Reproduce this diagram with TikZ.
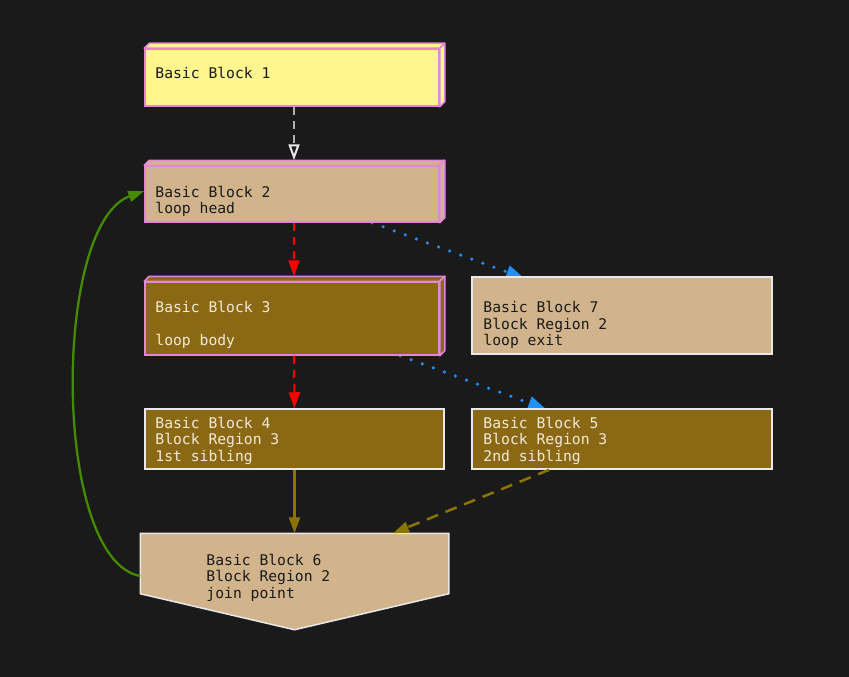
\documentclass[tikz,border=0pt]{standalone}
\usepackage{fontspec}
\newfontfamily\dmono{DejaVu Sans Mono}
\usetikzlibrary{arrows.meta,calc}
\definecolor{bg}{HTML}{1A1A1A}
\definecolor{khakic}{HTML}{FFF68F}
\definecolor{tanc}{HTML}{D2B48C}
\definecolor{goldc}{HTML}{8B6914}
\definecolor{orch}{HTML}{E386D6}
\definecolor{lightb}{HTML}{E8E8E8}
\definecolor{lighttext}{HTML}{F2EAD8}
\definecolor{darktext}{HTML}{1A1A1A}
\definecolor{edgegray}{HTML}{B0B0B0}
\definecolor{blueE}{HTML}{1E90FF}
\definecolor{oliveE}{HTML}{8B7500}
\definecolor{greenE}{HTML}{458B00}
\newcommand{\monotext}{\dmono\fontsize{14.7}{16.5}\selectfont}
\newcommand{\textlines}[1]{\begin{tabular}[t]{@{}l@{}}#1\end{tabular}}
\pgfdeclarelayer{backdrop}
\pgfdeclarelayer{under}
\pgfsetlayers{backdrop,under,main}
\begin{document}
\begin{tikzpicture}[x=1pt,y=-1pt,
  boxnode/.style={rectangle, inner sep=0pt, line width=1.5pt},
  pinkbox/.style={boxnode, draw=orch},
  whitebox/.style={boxnode, draw=lightb},
  face/.style={draw=orch, line width=1.5pt, line join=round},
  txtbase/.style={anchor=base west, inner sep=0pt, font=\monotext},
  txtdark/.style={txtbase, text=darktext},
  txtlight/.style={txtbase, text=lighttext},
  tipfill/.style={-{Triangle[length=16pt,width=11pt]}},
  tipbig/.style={-{Triangle[length=18pt,width=13pt]}},
  edgeline/.style={line width=2pt},
  dotline/.style={blueE, line width=3.5pt, line cap=round, dash pattern=on 0pt off 11.8pt, tipbig}
]
\begin{pgfonlayer}{backdrop}
\fill[bg] (0,0) rectangle (849,677);
\end{pgfonlayer}
\useasboundingbox (0,0) rectangle (849,677);

% Block 1
\node[pinkbox, fill=khakic, minimum width=294pt, minimum height=57pt] (b1) at (292,77.5) {};
\draw[face, fill=khakic] (b1.north west) -- ++(5,-5) -- ($(b1.north east)+(5,-5)$) -- (b1.north east) -- cycle;
\draw[face, fill=khakic] (b1.north east) -- ++(5,-5) -- ($(b1.south east)+(5,-5)$) -- (b1.south east) -- cycle;
\node[txtdark] (t1) at ($(b1.north west)+(11,30.5)$) {\textlines{Basic Block 1}};

% Block 2
\node[pinkbox, fill=tanc, minimum width=294pt, minimum height=56pt] (b2) at (292,194) {};
\draw[face, fill=tanc] (b2.north west) -- ++(5,-5) -- ($(b2.north east)+(5,-5)$) -- (b2.north east) -- cycle;
\draw[face, fill=tanc] (b2.north east) -- ++(5,-5) -- ($(b2.south east)+(5,-5)$) -- (b2.south east) -- cycle;
\node[txtdark] (t2) at ($(b2.north west)+(11,32)$) {\textlines{Basic Block 2\\loop head}};

% Block 3
\node[pinkbox, fill=goldc, minimum width=294pt, minimum height=73pt] (b3) at (292,318.5) {};
\draw[face, fill=goldc] (b3.north west) -- ++(5,-5) -- ($(b3.north east)+(5,-5)$) -- (b3.north east) -- cycle;
\draw[face, fill=goldc] (b3.north east) -- ++(5,-5) -- ($(b3.south east)+(5,-5)$) -- (b3.south east) -- cycle;
\node[txtlight] (t3) at ($(b3.north west)+(11,31.5)$) {\textlines{Basic Block 3\\ \\loop body}};

% Block 7
\node[whitebox, fill=tanc, minimum width=300pt, minimum height=77pt] (b7) at (622,315.5) {};
\node[txtdark] (t7) at ($(b7.north west)+(12,36.5)$) {\textlines{Basic Block 7\\Block Region 2\\loop exit}};

% Block 4
\node[whitebox, fill=goldc, minimum width=299pt, minimum height=60pt] (b4) at (294.5,439) {};
\node[txtlight] (t4) at ($(b4.north west)+(11,20.2)$) {\textlines{Basic Block 4\\Block Region 3\\1st sibling}};

% Block 5
\node[whitebox, fill=goldc, minimum width=300pt, minimum height=60pt] (b5) at (622,439) {};
\node[txtlight] (t5) at ($(b5.north west)+(12,20.2)$) {\textlines{Basic Block 5\\Block Region 3\\2nd sibling}};

% Block 6 (inverted house)
\node[boxnode, minimum width=307pt, minimum height=59pt] (b6) at (294.5,563.5) {};
\draw[fill=tanc, draw=lightb, line width=1.5pt, line join=miter]
  (b6.north west) -- (b6.north east) -- (b6.south east) -- ($(b6.south)+(0,36)$) -- (b6.south west) -- cycle;
\node[txtdark] (t6) at ($(b6.north west)+(66,32.2)$) {\textlines{Basic Block 6\\Block Region 2\\join point}};

% Edges
\begin{pgfonlayer}{under}
\draw[dotline] ($(b2.south)+(80,0)$) -- ($(b7.north west)+(53,2)$);
\draw[dotline] ($(b3.south)+(108,0)$) -- ($(b5.north west)+(75,1)$);
\end{pgfonlayer}
\draw[edgeline, edgegray, dash pattern=on 8pt off 6pt,
  -{Triangle[open,length=16pt,width=11pt,fill=bg,color=lightb]}]
  ($(b1.south)+(2,0)$) -- ($(b2.north)+(2,-5)$);
\draw[edgeline, red, dash pattern=on 8pt off 6pt, tipfill]
  ($(b2.south)+(2,0)$) -- ($(b3.north)+(2,-5)$);
\draw[edgeline, red, dash pattern=on 8pt off 6pt, tipfill]
  ($(b3.south)+(2,0)$) -- (b4.north);
\draw[oliveE, line width=2.5pt, tipfill] (b4.south) -- (b6.north);
\draw[oliveE, line width=2.5pt, dash pattern=on 12pt off 8pt, tipfill]
  ($(b5.south west)+(78,0)$) -- ($(b6.north)+(98.5,0)$);
\draw[greenE, line width=2.3pt, tipfill]
  ($(b6.west)+(0,12.5)$) .. controls (52,560) and (52,224) .. ($(b2.west)+(0,-3)$);
\end{tikzpicture}
\end{document}
